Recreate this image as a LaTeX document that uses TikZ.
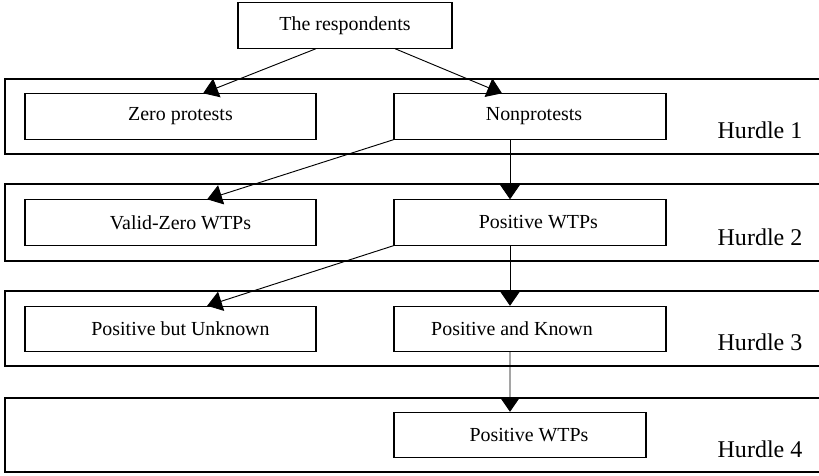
\documentclass[tikz,border=0pt]{standalone}
\usepackage{fontspec}
\setmainfont{Liberation Serif}
\usetikzlibrary{arrows.meta,calc}

\begin{document}
\begin{tikzpicture}[
        x=0.03cm, y=-0.03cm,
        line width=0.9pt,
        box/.style={rectangle, draw, fill=white, inner sep=2pt, align=center, minimum width=#1, minimum height=1.36cm, font=\fontsize{17}{20}\selectfont},
        box/.default=8.73cm,
        pushright/.style={execute at begin node=\hspace*{#1}},
        pushleft/.style={execute at end node=\hspace*{#1}},
        band/.style={draw},
        hurdle/.style={anchor=base, font=\fontsize{20.5}{24}\selectfont},
        arrow/.style={-{Triangle[length=0.44cm,width=0.6cm]}, line width=0.8pt}
    ]
        \useasboundingbox (0,0) rectangle (819,475);
        \clip (0,0) rectangle (819,475);

        % hurdle bands
        \draw[band] (5,79) rectangle (830,154);
        \draw[band] (5,184) rectangle (830,261);
        \draw[band] (5,291) rectangle (830,366);
        \draw[band] (5,398) rectangle (830,472);
        \node[hurdle] (h1) at (760,138) {Hurdle 1};
        \node[hurdle] (h2) at (760,245) {Hurdle 2};
        \node[hurdle] (h3) at (760,350) {Hurdle 3};
        \node[hurdle] (h4) at (760,457) {Hurdle 4};

        \node[box=6.42cm] (resp) at (345,25.5) {The respondents};
        \node[box, pushright=0.6cm] (zero) at (170.5,116.5) {Zero protests};
        \node[box=8.16cm, pushright=0.24cm] (nonprot) at (530,116.5) {Nonprotests};
        \node[box, pushright=0.6cm] (validzero) at (170.5,222.5) {Valid-Zero WTPs};
        \node[box=8.16cm, pushright=0.5cm] (poswtp) at (530,222.5) {Positive WTPs};
        \node[box, pushright=0.6cm] (unknown) at (170.5,329) {Positive but Unknown};
        \node[box=8.16cm, pushleft=1.08cm] (known) at (530,329) {Positive and Known};
        \node[box=7.56cm, pushright=0.54cm] (final) at (520,435) {Positive WTPs};

        \draw[arrow] ([xshift=-0.87cm]resp.south) -- ([xshift=0.98cm]zero.north);
        \draw[arrow] ([xshift=1.5cm]resp.south) -- ([xshift=-0.84cm]nonprot.north);
        \draw[arrow] (nonprot.south west) -- ([xshift=1.1cm]validzero.north);
        \draw[arrow] ([xshift=-0.6cm]nonprot.south) -- ([xshift=-0.6cm]poswtp.north);
        \draw[arrow] (poswtp.south west) -- ([xshift=1.1cm]unknown.north);
        \draw[arrow] ([xshift=-0.6cm]poswtp.south) -- ([xshift=-0.6cm]known.north);
        \draw[arrow] ([xshift=-0.6cm]known.south) -- ([xshift=-0.3cm]final.north);
    \end{tikzpicture}
\end{document}
